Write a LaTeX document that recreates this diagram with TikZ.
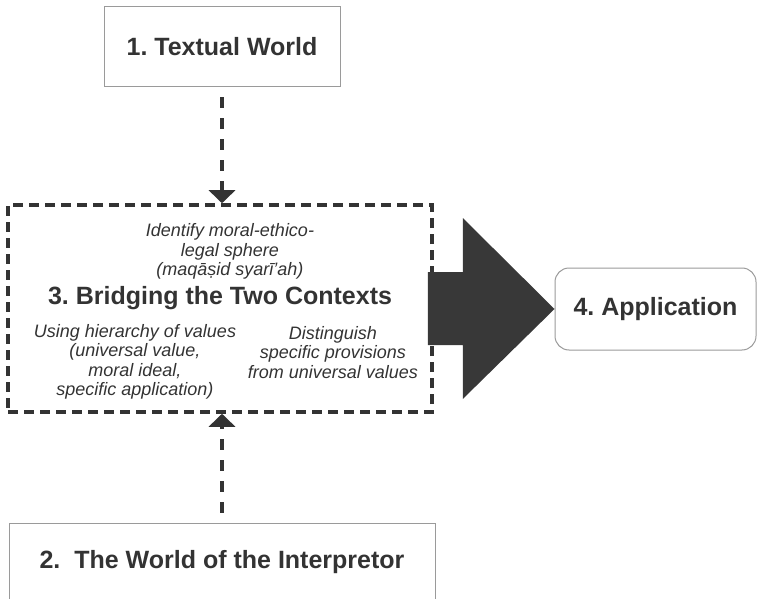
\documentclass[tikz,border=0pt]{standalone}
\usepackage{fontspec}
\setmainfont{Liberation Sans}
\usetikzlibrary{arrows.meta}
\frenchspacing
\definecolor{ink}{HTML}{333333}
\definecolor{frame}{HTML}{9A9A9A}
\definecolor{arrowfill}{HTML}{383838}
\tikzset{
  world/.style={draw=frame, line width=1pt, inner sep=0pt, text=ink,
    font=\fontsize{25}{30}\selectfont\bfseries},
  link/.style={ink, line width=3.5pt, dash pattern=on 11pt off 10pt, dash phase=11pt,
    -{Triangle[width=26pt,length=13pt]}},
  note/.style={text=ink, align=center, inner sep=0pt,
    font=\fontsize{18}{19.5}\selectfont\itshape},
}
\begin{document}
\begin{tikzpicture}[x=1pt,y=-1pt]
  \useasboundingbox (0,0) rectangle (758,599);
  % Worlds
  \node[world, minimum width=236pt, minimum height=80pt] (textual) at (222,47) {1. Textual World};
  \node[world, minimum width=426pt, minimum height=78pt] (interp) at (222,562) {2.\ \ The World of the Interpretor};
  \node[world, rounded corners=14pt, minimum width=201pt, minimum height=82pt] (appl) at (655.5,309) {4. Application};
  % Bridging box
  \node[draw=ink, line width=3.5pt, dash pattern=on 10pt off 6pt, inner sep=0pt,
    minimum width=424pt, minimum height=207pt] (bridge) at (220,308.5) {};
  \node[text=ink, inner sep=0pt, font=\fontsize{25}{30}\selectfont\bfseries] (bridgetitle) at (220,298) {3. Bridging the Two Contexts};
  \node[note] (sphere) at (230,251.5) {Identify moral-ethico-\\legal sphere\\(maqāṣid syarī'ah)};
  \node[note] (hierarchy) at (135,362) {Using hierarchy of values\\(universal value,\\moral ideal,\\specific application)};
  \node[note] (distinguish) at (333,352.5) {Distinguish\\specific provisions\\from universal values};
  % Dashed links
  \draw[link] (textual.south) -- (textual.south |- bridge.north);
  \draw[link] (interp.north) -- (interp.north |- bridge.south);
  % Big arrow
  \fill[arrowfill] ([shift={(-6,-36.5)}]bridge.east) -- ([shift={(29,-36.5)}]bridge.east)
    -- ([shift={(29,-90.5)}]bridge.east) -- (appl.west)
    -- ([shift={(29,90.5)}]bridge.east) -- ([shift={(29,36.5)}]bridge.east)
    -- ([shift={(-6,36.5)}]bridge.east) -- cycle;
\end{tikzpicture}
\end{document}
